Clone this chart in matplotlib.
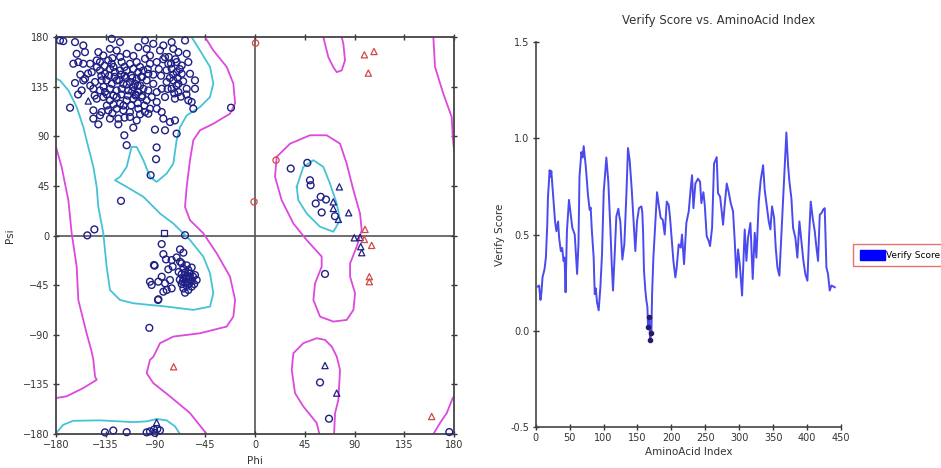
import matplotlib
matplotlib.use("Agg")
import matplotlib.pyplot as plt
import numpy as np
from matplotlib.patches import Patch

# ---------------- Ramachandran data ----------------
ticks_rama = [-180, -135, -90, -45, 0, 45, 90, 135, 180]

# core (cyan) and allowed (magenta) region boundaries, (phi, psi)
magenta_left = [(-45.2, 180), (-37.7, 168), (-25.6, 153), (-19.6, 138), (-18, 120), (-22.6, 110.6),
                (-37.7, 101.5), (-49.8, 95.5), (-55.8, 86.5), (-58.8, 68.4), (-61.8, 44.2), (-63.3, 26),
                (-58.8, 14), (-46.7, 2), (-34.7, -16), (-22.6, -37.3), (-18, -58.4), (-19.6, -73.5),
                (-25.6, -82.5), (-49.8, -88.6), (-73.9, -91.6), (-85.9, -97.6), (-92, -110), (-95, -112.7),
                (-98, -124.8), (-92, -133.8), (-77, -145.8), (-58.9, -160.9), (-46.9, -176), (-43.8, -180)]
magenta_far_left = [(-180, 80.4), (-174.9, 62.3), (-168.8, 32), (-165.8, 2), (-161.3, -28), (-159.8, -58.4),
                    (-152.3, -88.6), (-147.8, -105), (-146.2, -112.7), (-144.7, -127.8), (-143.2, -130.8),
                    (-155.3, -138.3), (-170.4, -145.8), (-180, -147.4)]
magenta_top_mid = [(61.8, 180), (66.3, 161.9), (70.8, 152.8), (73.9, 148.3), (78.4, 149.8), (81.4, 158.9),
                   (79.9, 174), (78.4, 180)]
magenta_right_top = [(161.3, 180), (162.8, 153), (170.3, 128.7), (177.9, 107.6), (178.8, 90), (180, 77.4)]
magenta_right_bot = [(180, -146), (178.8, -147.4), (173.4, -161), (167.3, -170), (161.3, -180)]
magenta_lha = [(19.6, 71.4), (31.7, 83.4), (49.7, 91), (64.8, 91), (76.9, 83.4), (82.9, 65.3), (89, 41.2),
               (95, 20), (96.5, 5), (92, -10), (86, -25.2), (86, -37.3), (90.5, -52.3), (89, -67.4),
               (82.9, -76.5), (70.9, -78), (58.8, -73.5), (52.8, -58.4), (54.3, -43.3), (60.3, -28.2),
               (60.3, -19), (46.7, -4), (34.7, 11), (24.1, 32.1), (18.1, 53.3), (19.6, 71.4)]
magenta_bot_mid = [(58.2, -180), (55.8, -170), (43.7, -155), (36.2, -142.9), (33.2, -121.8), (34.7, -106.7),
                   (43.7, -97.6), (55.8, -93.1), (63.3, -94.6), (69.4, -100.7), (73.9, -109.7), (76.9, -121.8),
                   (75.4, -149), (72.4, -161), (71.5, -180)]
cyan_left = [(-57.3, 180), (-49.8, 168), (-40.7, 153), (-37.7, 138), (-40.7, 125.7), (-49.8, 116.6),
             (-61.8, 109), (-67.8, 98.5), (-70.9, 86.5), (-73.9, 65.3), (-79.9, 56.3), (-89, 48.7), (-95, 53.3),
             (-101, 68.4), (-107, 80.4), (-111.6, 80.4), (-116.1, 62.3), (-122.1, 53.3), (-126.6, 50.2),
             (-116.1, 44.2), (-101, 35.2), (-85.9, 20), (-73.9, 11), (-58.8, -4), (-46.7, -19.2),
             (-40.7, -34.2), (-37.7, -52.3), (-40.7, -64.4), (-55.8, -67.4), (-79.9, -64.4), (-110, -61.4),
             (-122.1, -58.4), (-131.2, -49.3), (-134.2, -28.2), (-137.2, 2), (-141.7, 26.1), (-143.2, 44.2),
             (-146.2, 62.3), (-150.8, 80.4), (-155.3, 98.5), (-161.3, 116.6), (-168.8, 131.7),
             (-176.4, 140.8), (-180, 142.3)]
cyan_bottom = [(-180, -179), (-179.4, -178.5), (-173.4, -171.6), (-164.4, -168), (-140.2, -167.6),
               (-110.1, -169.2), (-98, -168.5), (-89, -166.4), (-79.9, -167.6), (-72.4, -173), (-67.9, -180)]
cyan_lha = [(37.7, 44.2), (43.7, 62.3), (52.8, 68.4), (61.8, 62.3), (67.8, 47.2), (73.9, 29.1), (76.9, 14.1),
            (70.9, 3.5), (58.8, 8), (46.7, 20.1), (39.2, 32.1), (37.7, 44.2)]

# general residues (circles)
res_phi = [-176.4, -173.4, -162.8, -155.3, -129.6, -122.1, -99.5, -92, -82.9, -75.4, -63.3,
           -161.3, -153.8, -141.7, -137.2, -131.2, -125.1, -116.1, -105.5, -98, -95, -85.9, -81.4, -73.9, -69.3, -61.8, -143.2,
           -164.3, -159.8, -155.3, -149.2, -140.2, -132.7, -129.6, -120.6, -113.1, -107, -99.5, -95, -88.9, -78.4, -70.9, -66.3, -60.3,
           -147.7, -140.2, -135.7, -131.2, -126.6, -122.1, -116.1, -110.1, -105.5, -101, -96.5, -75.4, -70.9, -66.3, -58.8, -153.8,
           -162.8, -155.3, -144.7, -138.7, -134.2, -129.6, -125.1, -119.1, -113.1, -108.5, -104, -98, -92, -79.9, -73.9, -69.3, -54.3,
           -156.8, -146.2, -140.2, -135.7, -131.2, -125.1, -120.6, -114.6, -110.1, -105.5, -101, -96.5, -88.9, -84.4, -75.4, -69.3, -61.8, -54.3,
           -143.2, -137.2, -131.2, -125.1, -122.1, -116.1, -110.1, -102.5, -98, -93.5, -88.9, -81.4, -72.4, -60.3, -57.3,
           -167.3, -146.2, -138.7, -132.7, -125.1, -119.1, -113.1, -105.5, -99.5, -95, -88.9, -84.4, -55.8,
           -146.2, -140.2, -131.2, -123.6, -113.1, -107, -96.5, -82.9, -76.9, -72.4, -141.7, -123.6,
           -110.1, -90.5, -81.4, -70.9, -118.2, -116.1, -89, -89.5, -94.4, -21.7, -121.2, -145.3, -151.7,
           -127, -118, -111, -103, -134, -128, -121, -115, -108, -102,
           -143, -136, -128, -121, -117, -112, -107, -102, -139, -132, -145, -134, -128, -119, -112, -106, -100,
           -129, -122, -110, -104, -97, -92, -87, -118, -111, -106, -116, -123, -137, -149, -151, -158, -160,
           -108, -104, -118, -129,
           -83, -78, -72, -80, -74, -68, -77, -71, -65, -79, -73, -67, -62, -76, -85, -70,
           -63.3, -84.4, -82.9, -67.8, -64.8, -80.5, -75.4, -70.9, -91.4, -78.4, -74.5, -67.8,
           -84.4, -95, -93.5, -87.4, -81.4, -76.9, -79.9, -82.9, -75.4, -54.3, -52.8, -63.3, -87.4, -87.7, -95.6, -90.8,
           -66.3, -61.8, -64.8, -60.3, -57.3, -63.3, -58.8, -66.3, -61.8, -56, -64.8, -60.3, -57.3, -63.3, -59.5,
           -66.3, -61.8, -57.3, -64.8, -60.3, -68, -69, -55, -62.5, -59, -62, -65.5,
           32.3, 47.3, 49.7, 50.3, 59.4, 64.2, 54.9, 60.3, 72.3, 63.3,
           58.8, 66.9, 175.7,
           -135.7, -128.2, -116.1, -98, -95, -91.4, -88.4, -86, -90.5]
res_psi = [177, 176.4, 175.5, 172.5, 178.5, 175.5, 177, 174, 172.5, 175.5, 177,
           164.9, 166.4, 166.4, 163.4, 169.4, 167.9, 164.9, 170.9, 169.4, 163.4, 167.9, 161.9, 169.4, 166.4, 164.9, 158.9,
           155.9, 157.4, 155.9, 155.9, 157.4, 158.9, 155.9, 157.4, 155.9, 157.4, 160.4, 155.9, 157.4, 155.9, 157.4, 154.3, 157.4,
           148.3, 149.8, 146.8, 151.3, 148.3, 149.8, 149.8, 151.3, 148.3, 149.8, 146.8, 151.3, 148.3, 146.8, 146.8, 142.3,
           138.4, 140.8, 139.3, 140.8, 140.8, 137.7, 140.8, 137.7, 139.3, 137.7, 136.2, 140.8, 137.7, 139.3, 140.8, 137.7, 140.8,
           131.7, 133.2, 131.7, 130.2, 133.2, 131.7, 133.2, 131.7, 134.7, 130.2, 133.2, 131.7, 130.2, 133.2, 133.2, 130.2, 133.2, 133.2,
           124.2, 125.7, 122.7, 125.7, 119.6, 122.7, 124.2, 125.7, 122.7, 125.7, 121.2, 125.7, 124.2, 122.7, 121.2,
           116, 113.6, 112.1, 113.6, 115.1, 113.6, 112.1, 115.1, 112.1, 115.1, 115.1, 112.1, 115.1,
           106.1, 109.1, 106.1, 106.1, 107.6, 104.5, 110.6, 106.1, 103, 104.5, 100.9, 100.9,
           97.9, 96.1, 95.5, 92.5, 91, 82, 80, 69.3, 54.8, 116, 31.5, 5.6, 0.2,
           144, 145, 143, 144, 128, 127, 128, 127, 128, 127,
           153, 154, 153, 146, 143, 145, 142, 144, 145, 145, 127, 118, 119, 118, 118, 120, 118,
           161, 162, 163, 153, 151, 146, 151, 153, 131, 136, 137, 141, 135, 136, 147, 146, 128,
           127, 110, 107, 111,
           160, 162, 160, 150, 146, 151, 143, 136, 140, 133, 129, 126, 128, 156, 145, 143,
           0.4, -7.7, -16.8, -12.5, -15.5, -21.6, -22.2, -19.8, -26.7, -30.6, -28.2, -23.7,
           -37.3, -41.8, -44.8, -41.8, -43.3, -40.3, -49.4, -50.9, -47.9, -35.8, -40.3, -51.8, -57.8, -58.4, -83.7, -27.3,
           -25.2, -27, -30, -31.2, -29, -33.5, -34.3, -35, -36.5, -37.3, -39, -39.8, -41, -42.5, -43.5,
           -44, -45.5, -46.3, -48, -49.4, -40, -33, -44, -38, -37.5, -41.5, -42,
           60.8, 66, 50.2, 45.7, 35.2, 32.7, 29.1, 21, 17.6, -34.8,
           -133.2, -166.1, -178.2,
           -178.5, -176.8, -178.3, -178.5, -177.6, -176, -175.5, -176.7, -179]

# glycine residues (triangles)
gly_phi = [-150.8, 70.8, 70.8, 75.4, 76.3, 84.7, 89.8, 95, 95.6, 96.5, 63.3, 73.9, -89]
gly_psi = [122.1, 30.6, 24.6, 14.7, 44.2, 20.7, -2, -1.7, -10, -15.5, -117.9, -142.9, -169.5]

# proline-like square
sq_phi = [-82.3]
sq_psi = [2.0]

# outliers (red)
out_circ_phi = [19, 0.5, -0.9]
out_circ_psi = [68.4, 174.6, 30.6]
out_tri_phi = [98.9, 99.5, 105.5, 103.4, 103.4, 98.9, 107.6, 102.5, -73.6, 159.8]
out_tri_psi = [-3.5, 5.6, -8.9, -37.3, -41.8, 164, 167, 147.4, -119, -164.1]

# ---------------- Verify3D data ----------------
aa_index = [3, 5, 7, 8.5, 10, 13, 15, 17, 18, 20.5, 22, 23, 24.5, 26.5, 28.5, 30.5, 33, 34.5, 37, 39, 41,
            42.5, 44, 46, 49, 51, 54, 57.5, 61, 63, 64.5, 67.3, 69, 70.7, 73.6, 75, 77, 79.5, 81, 82.5,
            85.4, 87, 88.5, 90.3, 92.8, 95.3, 97.7, 100.2, 102, 104.1, 107, 110, 112, 113.9, 116.4,
            118.8, 121.8, 123, 124.7, 127.7, 130.6, 133.6, 136, 138.5, 141.4, 144.8, 146.8, 149.3,
            152.2, 155.7, 157, 158.2, 159.6, 161.6, 163, 164.6, 165.5, 167.5, 168.5, 170.5, 171.5,
            173.4, 176.3, 178.8, 181.3, 184.2, 187.2, 190.1, 193.1, 196, 198, 199.9, 202.9, 205.8,
            207.8, 210.7, 213.7, 215.6, 218.6, 222, 225.5, 228.4, 230.4, 232.4, 235.3, 239.2, 242.2,
            244.1, 247.1, 249.1, 252, 255, 256.9, 259.9, 262.8, 266.7, 268.7, 271.7, 273.6, 276.1,
            278.5, 281.5, 284.4, 287.4, 290.8, 293.3, 295.7, 298.2, 300.7, 304.1, 306.1, 308, 310.5,
            312.9, 316.4, 319.8, 322.8, 325.2, 328.7, 331.6, 335.1, 337.5, 340.5, 343.4, 345.9, 348.3,
            351.3, 353.7, 356.2, 359.1, 362.1, 365, 367, 369.4, 371.9, 373.9, 376.8, 379.3, 382.7,
            385.6, 388.6, 391.5, 394.5, 397.4, 400.4, 402.8, 405.3, 408.2, 411.2, 413.7, 416.1, 418.6,
            421, 423.5, 425.9, 428.4, 430.8, 433.3, 435.8, 440.7]
verify_score = [0.23, 0.235, 0.16, 0.2, 0.277, 0.32, 0.38, 0.55, 0.69, 0.834, 0.80, 0.83, 0.757, 0.654, 0.568,
                0.517, 0.568, 0.483, 0.414, 0.43, 0.363, 0.38, 0.2, 0.517, 0.68, 0.62, 0.534, 0.5, 0.295, 0.45,
                0.8, 0.928, 0.9, 0.959, 0.86, 0.8, 0.705, 0.628, 0.64, 0.534, 0.38, 0.19, 0.22, 0.149, 0.106,
                0.226, 0.397, 0.72, 0.8, 0.9, 0.774, 0.534, 0.35, 0.209, 0.397, 0.594, 0.634, 0.6, 0.568,
                0.37, 0.449, 0.705, 0.949, 0.885, 0.74, 0.534, 0.414, 0.568, 0.637, 0.646, 0.62, 0.517,
                0.31, 0.209, 0.16, 0.123, 0.02, 0.07, -0.048, -0.01, 0.19, 0.38, 0.568, 0.72, 0.654, 0.586,
                0.577, 0.5, 0.671, 0.654, 0.586, 0.5, 0.363, 0.277, 0.329, 0.449, 0.432, 0.5, 0.346, 0.56,
                0.62, 0.74, 0.808, 0.637, 0.765, 0.79, 0.774, 0.663, 0.72, 0.654, 0.491, 0.466, 0.44, 0.534,
                0.868, 0.902, 0.714, 0.697, 0.637, 0.551, 0.654, 0.765, 0.72, 0.663, 0.62, 0.466, 0.277,
                0.423, 0.346, 0.183, 0.363, 0.526, 0.363, 0.483, 0.56, 0.269, 0.509, 0.38, 0.671, 0.783,
                0.86, 0.731, 0.646, 0.568, 0.526, 0.646, 0.586, 0.432, 0.329, 0.286, 0.5, 0.705, 0.86, 1.03,
                0.86, 0.774, 0.688, 0.534, 0.483, 0.38, 0.568, 0.466, 0.363, 0.294, 0.26, 0.483, 0.671,
                0.586, 0.517, 0.432, 0.363, 0.603, 0.611, 0.628, 0.637, 0.329, 0.294, 0.209, 0.235, 0.226]

verify_x_ticks = [0, 50, 100, 150, 200, 250, 300, 350, 400, 450]
verify_y_ticks = [-0.5, 0.0, 0.5, 1.0, 1.5]

# ---------------- figure ----------------
plt.rcParams['font.family'] = ['DejaVu Sans']
fig = plt.figure(figsize=(9.41, 4.68), dpi=100)

NAVY = '#1f1f85'
MAG = '#dd48dd'
CYAN = '#45c3d6'
RED = '#d04848'

ax1 = fig.add_axes([0.0595, 0.0726, 0.423, 0.848])
ax1.set_xlim(-180, 180)
ax1.set_ylim(-180, 180)
for c in [magenta_left, magenta_far_left, magenta_top_mid, magenta_right_top, magenta_right_bot,
          magenta_lha, magenta_bot_mid]:
    a = np.array(c)
    ax1.plot(a[:, 0], a[:, 1], color=MAG, lw=1.3, zorder=2)
for c in [cyan_left, cyan_bottom, cyan_lha]:
    a = np.array(c)
    ax1.plot(a[:, 0], a[:, 1], color=CYAN, lw=1.3, zorder=2)
ax1.axhline(0, color='#555555', lw=1.2, zorder=1)
ax1.axvline(0, color='#555555', lw=1.2, zorder=1)

ax1.scatter(res_phi, res_psi, s=24, marker='o', facecolors='none', edgecolors=NAVY, linewidths=1.0, zorder=3, clip_on=False)
ax1.scatter(gly_phi, gly_psi, s=20, marker='^', facecolors='none', edgecolors=NAVY, linewidths=0.9, zorder=3)
ax1.scatter(sq_phi, sq_psi, s=20, marker='s', facecolors='none', edgecolors=NAVY, linewidths=0.9, zorder=3)
ax1.scatter(out_circ_phi, out_circ_psi, s=20, marker='o', facecolors='none', edgecolors=RED, linewidths=0.9, zorder=3)
ax1.scatter(out_tri_phi, out_tri_psi, s=20, marker='^', facecolors='none', edgecolors=RED, linewidths=0.9, zorder=3)

ax1.set_xticks(ticks_rama)
ax1.set_yticks(ticks_rama)
ax1.tick_params(direction='inout', length=5, width=1, labelsize=7, colors='#333333',
                top=True, right=True, labeltop=False, labelright=False, pad=2)
for sp in ax1.spines.values():
    sp.set_color('#444444')
    sp.set_linewidth(1.3)
ax1.set_xlabel('Phi', fontsize=7.5, color='#333333', labelpad=4)
ax1.set_ylabel('Psi', fontsize=7.5, color='#333333', labelpad=6)

# Verify3D panel
ax2 = fig.add_axes([0.5693, 0.0876, 0.3245, 0.8226])
ax2.plot(aa_index, verify_score, color='#4a4aee', lw=1.4, zorder=2)
vx = np.array(aa_index)
vy = np.array(verify_score)
low = vy < 0.1
ax2.scatter(vx[low], vy[low], s=9, color='#2a1a6a', zorder=3)
ax2.set_xlim(0, 450)
ax2.set_ylim(-0.5, 1.5)
ax2.set_xticks(verify_x_ticks)
ax2.set_yticks(verify_y_ticks)
ax2.set_yticklabels([f'{v:.1f}' for v in verify_y_ticks])
for s in ['top', 'right']:
    ax2.spines[s].set_visible(False)
for s in ['left', 'bottom']:
    ax2.spines[s].set_color('#444444')
    ax2.spines[s].set_linewidth(1.2)
ax2.tick_params(direction='inout', length=5, width=1, labelsize=7, colors='#333333', pad=2)
ax2.set_xlabel('AminoAcid Index', fontsize=7.5, color='#333333', labelpad=3)
ax2.set_ylabel('Verify Score', fontsize=7.5, color='#333333', labelpad=4)
fig.text(0.764, 0.957, 'Verify Score vs. AminoAcid Index', ha='center', va='center',
         fontsize=8.5, color='#333333')

fig.legend(handles=[Patch(facecolor='#0000ff', edgecolor='#0000ff', label='Verify Score')],
           loc='center left', bbox_to_anchor=(0.907, 0.455), frameon=True, fancybox=False,
           edgecolor='#e05050', fontsize=6.5, handlelength=2.8, handleheight=1.3,
           handletextpad=0.1, borderpad=0.7, borderaxespad=0)

fig.savefig('out.png', dpi=100)
